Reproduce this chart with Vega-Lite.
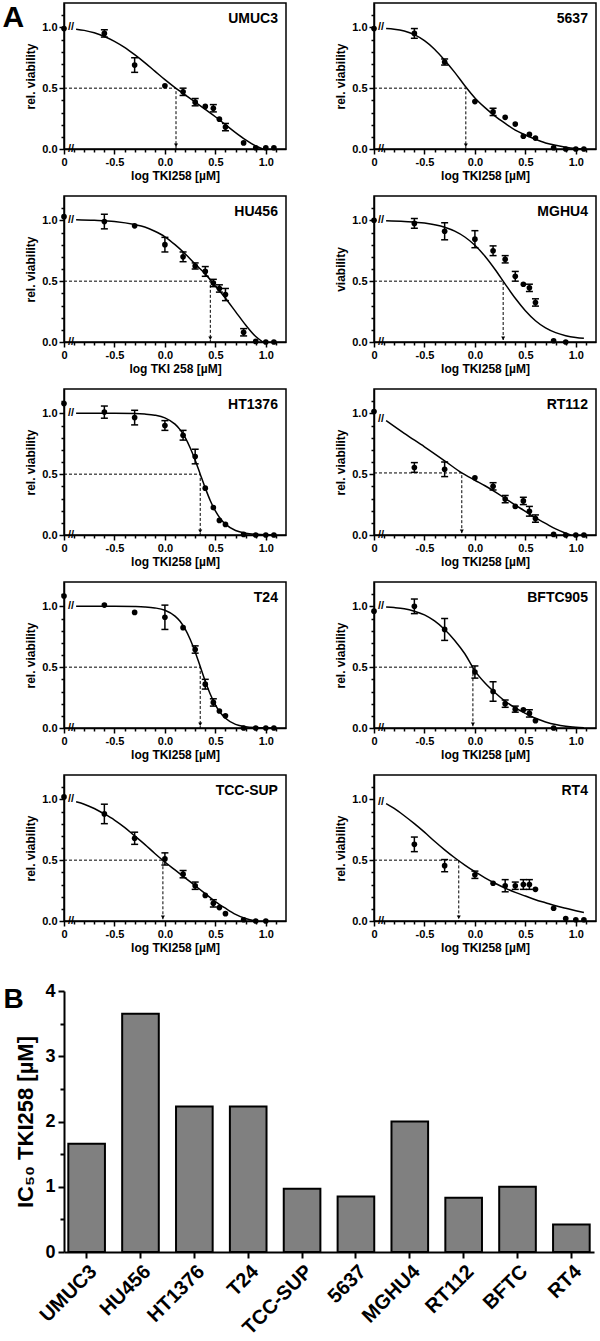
{
"$schema":"https://vega.github.io/schema/vega-lite/v6.json",
"padding":{"left":1,"top":2,"right":0,"bottom":0},
"config":{"font":"Liberation Sans","view":{"stroke":"black","strokeWidth":1.5},
"axis":{"domainColor":"black","domainWidth":1.5,"tickColor":"black","tickWidth":1.5,"tickSize":4,"labelColor":"black","labelFont":"Liberation Sans","labelFontWeight":"bold","labelFontSize":11,"titleFont":"Liberation Sans","titleFontWeight":"bold","titleFontSize":12,"titleColor":"black","grid":false,"labelPadding":2,"titlePadding":4}},
"datasets":{"all":[
{"c":"UMUC3","k":"f","x":-0.88,"y":0.985},{"c":"UMUC3","k":"f","x":-0.8,"y":0.975},{"c":"UMUC3","k":"f","x":-0.7,"y":0.955},{"c":"UMUC3","k":"f","x":-0.6,"y":0.925},{"c":"UMUC3","k":"f","x":-0.5,"y":0.885},{"c":"UMUC3","k":"f","x":-0.4,"y":0.835},{"c":"UMUC3","k":"f","x":-0.3,"y":0.775},{"c":"UMUC3","k":"f","x":-0.2,"y":0.71},{"c":"UMUC3","k":"f","x":-0.1,"y":0.64},{"c":"UMUC3","k":"f","x":0,"y":0.57},{"c":"UMUC3","k":"f","x":0.1,"y":0.505},{"c":"UMUC3","k":"f","x":0.2,"y":0.445},{"c":"UMUC3","k":"f","x":0.3,"y":0.385},{"c":"UMUC3","k":"f","x":0.4,"y":0.325},{"c":"UMUC3","k":"f","x":0.5,"y":0.265},{"c":"UMUC3","k":"f","x":0.6,"y":0.2},{"c":"UMUC3","k":"f","x":0.7,"y":0.135},{"c":"UMUC3","k":"f","x":0.8,"y":0.075},{"c":"UMUC3","k":"f","x":0.9,"y":0.025},{"c":"UMUC3","k":"f","x":0.97,"y":0},
{"c":"UMUC3","k":"p","x":-1,"y":0.99},{"c":"UMUC3","k":"p","x":-0.6,"y":0.95,"lo":0.92,"hi":0.98},{"c":"UMUC3","k":"p","x":-0.3,"y":0.69,"lo":0.63,"hi":0.75},{"c":"UMUC3","k":"p","x":0,"y":0.52},{"c":"UMUC3","k":"p","x":0.18,"y":0.47,"lo":0.44,"hi":0.5},{"c":"UMUC3","k":"p","x":0.3,"y":0.385,"lo":0.355,"hi":0.415},{"c":"UMUC3","k":"p","x":0.4,"y":0.35},{"c":"UMUC3","k":"p","x":0.48,"y":0.335,"lo":0.305,"hi":0.365},{"c":"UMUC3","k":"p","x":0.54,"y":0.245},{"c":"UMUC3","k":"p","x":0.6,"y":0.18,"lo":0.15,"hi":0.21},{"c":"UMUC3","k":"p","x":0.78,"y":0.05},{"c":"UMUC3","k":"p","x":0.9,"y":0.01},{"c":"UMUC3","k":"p","x":1.0,"y":0.01},{"c":"UMUC3","k":"p","x":1.08,"y":0.01},
{"c":"UMUC3","k":"i","ic":0.11},{"c":"UMUC3","k":"g","x":-1,"y":0.5,"o":1},{"c":"UMUC3","k":"g","x":0.11,"y":0.5,"o":2},{"c":"UMUC3","k":"g","x":0.11,"y":0,"o":3},{"c":"UMUC3","k":"b","y":1},{"c":"UMUC3","k":"b","y":0},

{"c":"5637","k":"f","x":-0.88,"y":0.99},{"c":"5637","k":"f","x":-0.8,"y":0.985},{"c":"5637","k":"f","x":-0.7,"y":0.97},{"c":"5637","k":"f","x":-0.6,"y":0.94},{"c":"5637","k":"f","x":-0.5,"y":0.89},{"c":"5637","k":"f","x":-0.4,"y":0.82},{"c":"5637","k":"f","x":-0.3,"y":0.73},{"c":"5637","k":"f","x":-0.2,"y":0.63},{"c":"5637","k":"f","x":-0.1,"y":0.52},{"c":"5637","k":"f","x":0,"y":0.42},{"c":"5637","k":"f","x":0.1,"y":0.34},{"c":"5637","k":"f","x":0.2,"y":0.27},{"c":"5637","k":"f","x":0.3,"y":0.21},{"c":"5637","k":"f","x":0.4,"y":0.155},{"c":"5637","k":"f","x":0.5,"y":0.115},{"c":"5637","k":"f","x":0.6,"y":0.08},{"c":"5637","k":"f","x":0.7,"y":0.05},{"c":"5637","k":"f","x":0.8,"y":0.03},{"c":"5637","k":"f","x":0.9,"y":0.015},{"c":"5637","k":"f","x":1.0,"y":0.005},{"c":"5637","k":"f","x":1.08,"y":0},
{"c":"5637","k":"p","x":-1,"y":0.99},{"c":"5637","k":"p","x":-0.6,"y":0.95,"lo":0.91,"hi":0.99},{"c":"5637","k":"p","x":-0.3,"y":0.715,"lo":0.69,"hi":0.74},{"c":"5637","k":"p","x":0,"y":0.39},{"c":"5637","k":"p","x":0.18,"y":0.305,"lo":0.275,"hi":0.335},{"c":"5637","k":"p","x":0.3,"y":0.26},{"c":"5637","k":"p","x":0.4,"y":0.205},{"c":"5637","k":"p","x":0.48,"y":0.105},{"c":"5637","k":"p","x":0.54,"y":0.12},{"c":"5637","k":"p","x":0.6,"y":0.09},{"c":"5637","k":"p","x":0.78,"y":0.01},{"c":"5637","k":"p","x":0.9,"y":0},{"c":"5637","k":"p","x":1.0,"y":0},{"c":"5637","k":"p","x":1.08,"y":0},
{"c":"5637","k":"i","ic":-0.09},{"c":"5637","k":"g","x":-1,"y":0.5,"o":1},{"c":"5637","k":"g","x":-0.09,"y":0.5,"o":2},{"c":"5637","k":"g","x":-0.09,"y":0,"o":3},{"c":"5637","k":"b","y":1},{"c":"5637","k":"b","y":0},

{"c":"HU456","k":"f","x":-0.88,"y":1.005},{"c":"HU456","k":"f","x":-0.7,"y":1.0},{"c":"HU456","k":"f","x":-0.5,"y":0.99},{"c":"HU456","k":"f","x":-0.3,"y":0.965},{"c":"HU456","k":"f","x":-0.2,"y":0.945},{"c":"HU456","k":"f","x":-0.1,"y":0.91},{"c":"HU456","k":"f","x":0,"y":0.865},{"c":"HU456","k":"f","x":0.1,"y":0.8},{"c":"HU456","k":"f","x":0.2,"y":0.725},{"c":"HU456","k":"f","x":0.3,"y":0.64},{"c":"HU456","k":"f","x":0.4,"y":0.56},{"c":"HU456","k":"f","x":0.5,"y":0.46},{"c":"HU456","k":"f","x":0.6,"y":0.36},{"c":"HU456","k":"f","x":0.7,"y":0.25},{"c":"HU456","k":"f","x":0.8,"y":0.14},{"c":"HU456","k":"f","x":0.9,"y":0.045},{"c":"HU456","k":"f","x":0.97,"y":0},
{"c":"HU456","k":"p","x":-1,"y":1.03},{"c":"HU456","k":"p","x":-0.6,"y":0.99,"lo":0.93,"hi":1.05},{"c":"HU456","k":"p","x":-0.3,"y":0.955},{"c":"HU456","k":"p","x":0,"y":0.8,"lo":0.74,"hi":0.86},{"c":"HU456","k":"p","x":0.18,"y":0.7,"lo":0.66,"hi":0.74},{"c":"HU456","k":"p","x":0.3,"y":0.625,"lo":0.6,"hi":0.65},{"c":"HU456","k":"p","x":0.4,"y":0.58,"lo":0.54,"hi":0.62},{"c":"HU456","k":"p","x":0.48,"y":0.485,"lo":0.455,"hi":0.515},{"c":"HU456","k":"p","x":0.54,"y":0.44,"lo":0.41,"hi":0.47},{"c":"HU456","k":"p","x":0.6,"y":0.39,"lo":0.34,"hi":0.44},{"c":"HU456","k":"p","x":0.78,"y":0.08,"lo":0.05,"hi":0.11},{"c":"HU456","k":"p","x":0.9,"y":0.005},{"c":"HU456","k":"p","x":1.0,"y":0},{"c":"HU456","k":"p","x":1.08,"y":0},
{"c":"HU456","k":"i","ic":0.45},{"c":"HU456","k":"g","x":-1,"y":0.5,"o":1},{"c":"HU456","k":"g","x":0.45,"y":0.5,"o":2},{"c":"HU456","k":"g","x":0.45,"y":0,"o":3},{"c":"HU456","k":"b","y":1},{"c":"HU456","k":"b","y":0},

{"c":"MGHU4","k":"f","x":-0.88,"y":0.997},{"c":"MGHU4","k":"f","x":-0.7,"y":0.991},{"c":"MGHU4","k":"f","x":-0.5,"y":0.978},{"c":"MGHU4","k":"f","x":-0.3,"y":0.943},{"c":"MGHU4","k":"f","x":-0.2,"y":0.911},{"c":"MGHU4","k":"f","x":-0.1,"y":0.863},{"c":"MGHU4","k":"f","x":0,"y":0.795},{"c":"MGHU4","k":"f","x":0.1,"y":0.705},{"c":"MGHU4","k":"f","x":0.2,"y":0.596},{"c":"MGHU4","k":"f","x":0.3,"y":0.476},{"c":"MGHU4","k":"f","x":0.4,"y":0.359},{"c":"MGHU4","k":"f","x":0.5,"y":0.257},{"c":"MGHU4","k":"f","x":0.6,"y":0.175},{"c":"MGHU4","k":"f","x":0.7,"y":0.116},{"c":"MGHU4","k":"f","x":0.8,"y":0.077},{"c":"MGHU4","k":"f","x":0.9,"y":0.052},{"c":"MGHU4","k":"f","x":1.0,"y":0.037},{"c":"MGHU4","k":"f","x":1.08,"y":0.03},
{"c":"MGHU4","k":"p","x":-1,"y":1.0},{"c":"MGHU4","k":"p","x":-0.6,"y":0.975,"lo":0.935,"hi":1.015},{"c":"MGHU4","k":"p","x":-0.3,"y":0.91,"lo":0.84,"hi":0.98},{"c":"MGHU4","k":"p","x":0,"y":0.845,"lo":0.775,"hi":0.915},{"c":"MGHU4","k":"p","x":0.18,"y":0.75,"lo":0.71,"hi":0.79},{"c":"MGHU4","k":"p","x":0.3,"y":0.68,"lo":0.65,"hi":0.71},{"c":"MGHU4","k":"p","x":0.4,"y":0.54,"lo":0.5,"hi":0.58},{"c":"MGHU4","k":"p","x":0.48,"y":0.475},{"c":"MGHU4","k":"p","x":0.54,"y":0.445,"lo":0.415,"hi":0.475},{"c":"MGHU4","k":"p","x":0.6,"y":0.325,"lo":0.295,"hi":0.355},{"c":"MGHU4","k":"p","x":0.78,"y":0.01},{"c":"MGHU4","k":"p","x":0.9,"y":0},
{"c":"MGHU4","k":"i","ic":0.28},{"c":"MGHU4","k":"g","x":-1,"y":0.5,"o":1},{"c":"MGHU4","k":"g","x":0.28,"y":0.5,"o":2},{"c":"MGHU4","k":"g","x":0.28,"y":0,"o":3},{"c":"MGHU4","k":"b","y":1},{"c":"MGHU4","k":"b","y":0},

{"c":"HT1376","k":"f","x":-0.88,"y":1.0},{"c":"HT1376","k":"f","x":-0.5,"y":1.0},{"c":"HT1376","k":"f","x":-0.3,"y":0.998},{"c":"HT1376","k":"f","x":-0.2,"y":0.994},{"c":"HT1376","k":"f","x":-0.1,"y":0.985},{"c":"HT1376","k":"f","x":0,"y":0.963},{"c":"HT1376","k":"f","x":0.1,"y":0.911},{"c":"HT1376","k":"f","x":0.15,"y":0.866},{"c":"HT1376","k":"f","x":0.2,"y":0.802},{"c":"HT1376","k":"f","x":0.25,"y":0.717},{"c":"HT1376","k":"f","x":0.3,"y":0.615},{"c":"HT1376","k":"f","x":0.35,"y":0.5},{"c":"HT1376","k":"f","x":0.4,"y":0.386},{"c":"HT1376","k":"f","x":0.45,"y":0.282},{"c":"HT1376","k":"f","x":0.5,"y":0.198},{"c":"HT1376","k":"f","x":0.55,"y":0.134},{"c":"HT1376","k":"f","x":0.6,"y":0.089},{"c":"HT1376","k":"f","x":0.7,"y":0.037},{"c":"HT1376","k":"f","x":0.8,"y":0.015},{"c":"HT1376","k":"f","x":0.9,"y":0.006},{"c":"HT1376","k":"f","x":1.0,"y":0.002},{"c":"HT1376","k":"f","x":1.08,"y":0.001},
{"c":"HT1376","k":"p","x":-1,"y":1.08},{"c":"HT1376","k":"p","x":-0.6,"y":1.01,"lo":0.96,"hi":1.06},{"c":"HT1376","k":"p","x":-0.3,"y":0.965,"lo":0.905,"hi":1.025},{"c":"HT1376","k":"p","x":0,"y":0.9,"lo":0.86,"hi":0.94},{"c":"HT1376","k":"p","x":0.18,"y":0.82,"lo":0.78,"hi":0.86},{"c":"HT1376","k":"p","x":0.3,"y":0.645,"lo":0.585,"hi":0.705},{"c":"HT1376","k":"p","x":0.4,"y":0.385},{"c":"HT1376","k":"p","x":0.48,"y":0.225},{"c":"HT1376","k":"p","x":0.54,"y":0.12},{"c":"HT1376","k":"p","x":0.6,"y":0.087},{"c":"HT1376","k":"p","x":0.78,"y":0.005},{"c":"HT1376","k":"p","x":0.9,"y":0},{"c":"HT1376","k":"p","x":1.0,"y":0},{"c":"HT1376","k":"p","x":1.08,"y":0},
{"c":"HT1376","k":"i","ic":0.35},{"c":"HT1376","k":"g","x":-1,"y":0.5,"o":1},{"c":"HT1376","k":"g","x":0.35,"y":0.5,"o":2},{"c":"HT1376","k":"g","x":0.35,"y":0,"o":3},{"c":"HT1376","k":"b","y":1},{"c":"HT1376","k":"b","y":0},

{"c":"RT112","k":"f","x":-0.88,"y":0.94},{"c":"RT112","k":"f","x":-0.7,"y":0.835},{"c":"RT112","k":"f","x":-0.5,"y":0.725},{"c":"RT112","k":"f","x":-0.3,"y":0.61},{"c":"RT112","k":"f","x":-0.13,"y":0.51},{"c":"RT112","k":"f","x":0,"y":0.45},{"c":"RT112","k":"f","x":0.1,"y":0.405},{"c":"RT112","k":"f","x":0.2,"y":0.355},{"c":"RT112","k":"f","x":0.3,"y":0.3},{"c":"RT112","k":"f","x":0.4,"y":0.245},{"c":"RT112","k":"f","x":0.5,"y":0.195},{"c":"RT112","k":"f","x":0.6,"y":0.14},{"c":"RT112","k":"f","x":0.7,"y":0.095},{"c":"RT112","k":"f","x":0.8,"y":0.05},{"c":"RT112","k":"f","x":0.9,"y":0.015},{"c":"RT112","k":"f","x":0.95,"y":0},
{"c":"RT112","k":"p","x":-1,"y":1.015},{"c":"RT112","k":"p","x":-0.6,"y":0.555,"lo":0.515,"hi":0.595},{"c":"RT112","k":"p","x":-0.3,"y":0.54,"lo":0.48,"hi":0.6},{"c":"RT112","k":"p","x":0,"y":0.47},{"c":"RT112","k":"p","x":0.18,"y":0.4,"lo":0.37,"hi":0.43},{"c":"RT112","k":"p","x":0.3,"y":0.295,"lo":0.265,"hi":0.325},{"c":"RT112","k":"p","x":0.4,"y":0.235},{"c":"RT112","k":"p","x":0.48,"y":0.28,"lo":0.25,"hi":0.31},{"c":"RT112","k":"p","x":0.54,"y":0.195,"lo":0.155,"hi":0.235},{"c":"RT112","k":"p","x":0.6,"y":0.135,"lo":0.105,"hi":0.165},{"c":"RT112","k":"p","x":0.78,"y":0.005},{"c":"RT112","k":"p","x":0.9,"y":0},{"c":"RT112","k":"p","x":1.0,"y":0},{"c":"RT112","k":"p","x":1.08,"y":0},
{"c":"RT112","k":"i","ic":-0.13},{"c":"RT112","k":"g","x":-1,"y":0.51,"o":1},{"c":"RT112","k":"g","x":-0.13,"y":0.51,"o":2},{"c":"RT112","k":"g","x":-0.13,"y":0,"o":3},{"c":"RT112","k":"b","y":0.95},{"c":"RT112","k":"b","y":0},

{"c":"T24","k":"f","x":-0.88,"y":1.0},{"c":"T24","k":"f","x":-0.5,"y":1.0},{"c":"T24","k":"f","x":-0.3,"y":0.998},{"c":"T24","k":"f","x":-0.2,"y":0.995},{"c":"T24","k":"f","x":-0.1,"y":0.987},{"c":"T24","k":"f","x":0,"y":0.968},{"c":"T24","k":"f","x":0.1,"y":0.92},{"c":"T24","k":"f","x":0.15,"y":0.878},{"c":"T24","k":"f","x":0.2,"y":0.815},{"c":"T24","k":"f","x":0.25,"y":0.73},{"c":"T24","k":"f","x":0.3,"y":0.625},{"c":"T24","k":"f","x":0.35,"y":0.505},{"c":"T24","k":"f","x":0.4,"y":0.385},{"c":"T24","k":"f","x":0.45,"y":0.278},{"c":"T24","k":"f","x":0.5,"y":0.19},{"c":"T24","k":"f","x":0.55,"y":0.125},{"c":"T24","k":"f","x":0.6,"y":0.08},{"c":"T24","k":"f","x":0.7,"y":0.03},{"c":"T24","k":"f","x":0.8,"y":0.011},{"c":"T24","k":"f","x":0.9,"y":0.004},{"c":"T24","k":"f","x":1.0,"y":0.001},{"c":"T24","k":"f","x":1.08,"y":0},
{"c":"T24","k":"p","x":-1,"y":1.085},{"c":"T24","k":"p","x":-0.6,"y":1.01},{"c":"T24","k":"p","x":-0.3,"y":0.95},{"c":"T24","k":"p","x":0,"y":0.91,"lo":0.81,"hi":1.01},{"c":"T24","k":"p","x":0.18,"y":0.825},{"c":"T24","k":"p","x":0.3,"y":0.645,"lo":0.615,"hi":0.675},{"c":"T24","k":"p","x":0.4,"y":0.36,"lo":0.32,"hi":0.4},{"c":"T24","k":"p","x":0.48,"y":0.21,"lo":0.18,"hi":0.24},{"c":"T24","k":"p","x":0.54,"y":0.14},{"c":"T24","k":"p","x":0.6,"y":0.1},{"c":"T24","k":"p","x":0.78,"y":0},{"c":"T24","k":"p","x":0.9,"y":0},{"c":"T24","k":"p","x":1.0,"y":0},{"c":"T24","k":"p","x":1.08,"y":0},
{"c":"T24","k":"i","ic":0.35},{"c":"T24","k":"g","x":-1,"y":0.5,"o":1},{"c":"T24","k":"g","x":0.35,"y":0.5,"o":2},{"c":"T24","k":"g","x":0.35,"y":0,"o":3},{"c":"T24","k":"b","y":1},{"c":"T24","k":"b","y":0},

{"c":"BFTC905","k":"f","x":-0.88,"y":0.995},{"c":"BFTC905","k":"f","x":-0.8,"y":0.99},{"c":"BFTC905","k":"f","x":-0.7,"y":0.98},{"c":"BFTC905","k":"f","x":-0.6,"y":0.96},{"c":"BFTC905","k":"f","x":-0.5,"y":0.93},{"c":"BFTC905","k":"f","x":-0.4,"y":0.88},{"c":"BFTC905","k":"f","x":-0.3,"y":0.81},{"c":"BFTC905","k":"f","x":-0.2,"y":0.72},{"c":"BFTC905","k":"f","x":-0.1,"y":0.61},{"c":"BFTC905","k":"f","x":0,"y":0.47},{"c":"BFTC905","k":"f","x":0.1,"y":0.37},{"c":"BFTC905","k":"f","x":0.2,"y":0.29},{"c":"BFTC905","k":"f","x":0.3,"y":0.22},{"c":"BFTC905","k":"f","x":0.4,"y":0.165},{"c":"BFTC905","k":"f","x":0.5,"y":0.12},{"c":"BFTC905","k":"f","x":0.6,"y":0.08},{"c":"BFTC905","k":"f","x":0.7,"y":0.05},{"c":"BFTC905","k":"f","x":0.8,"y":0.028},{"c":"BFTC905","k":"f","x":0.9,"y":0.014},{"c":"BFTC905","k":"f","x":1.0,"y":0.006},{"c":"BFTC905","k":"f","x":1.08,"y":0.002},
{"c":"BFTC905","k":"p","x":-1,"y":0.96},{"c":"BFTC905","k":"p","x":-0.6,"y":1.0,"lo":0.94,"hi":1.06},{"c":"BFTC905","k":"p","x":-0.3,"y":0.81,"lo":0.72,"hi":0.9},{"c":"BFTC905","k":"p","x":0,"y":0.46,"lo":0.41,"hi":0.51},{"c":"BFTC905","k":"p","x":0.18,"y":0.3,"lo":0.22,"hi":0.38},{"c":"BFTC905","k":"p","x":0.3,"y":0.2,"lo":0.17,"hi":0.23},{"c":"BFTC905","k":"p","x":0.4,"y":0.155,"lo":0.13,"hi":0.18},{"c":"BFTC905","k":"p","x":0.48,"y":0.15},{"c":"BFTC905","k":"p","x":0.54,"y":0.12,"lo":0.09,"hi":0.15},{"c":"BFTC905","k":"p","x":0.6,"y":0.06},{"c":"BFTC905","k":"p","x":0.78,"y":0},
{"c":"BFTC905","k":"i","ic":-0.02},{"c":"BFTC905","k":"g","x":-1,"y":0.5,"o":1},{"c":"BFTC905","k":"g","x":-0.02,"y":0.5,"o":2},{"c":"BFTC905","k":"g","x":-0.02,"y":0,"o":3},{"c":"BFTC905","k":"b","y":1},{"c":"BFTC905","k":"b","y":0},

{"c":"TCC-SUP","k":"f","x":-0.88,"y":0.98},{"c":"TCC-SUP","k":"f","x":-0.8,"y":0.96},{"c":"TCC-SUP","k":"f","x":-0.7,"y":0.925},{"c":"TCC-SUP","k":"f","x":-0.6,"y":0.88},{"c":"TCC-SUP","k":"f","x":-0.5,"y":0.83},{"c":"TCC-SUP","k":"f","x":-0.4,"y":0.77},{"c":"TCC-SUP","k":"f","x":-0.3,"y":0.7},{"c":"TCC-SUP","k":"f","x":-0.2,"y":0.63},{"c":"TCC-SUP","k":"f","x":-0.1,"y":0.555},{"c":"TCC-SUP","k":"f","x":0,"y":0.485},{"c":"TCC-SUP","k":"f","x":0.1,"y":0.42},{"c":"TCC-SUP","k":"f","x":0.2,"y":0.355},{"c":"TCC-SUP","k":"f","x":0.3,"y":0.29},{"c":"TCC-SUP","k":"f","x":0.4,"y":0.225},{"c":"TCC-SUP","k":"f","x":0.5,"y":0.16},{"c":"TCC-SUP","k":"f","x":0.6,"y":0.105},{"c":"TCC-SUP","k":"f","x":0.7,"y":0.055},{"c":"TCC-SUP","k":"f","x":0.8,"y":0.02},{"c":"TCC-SUP","k":"f","x":0.9,"y":0},
{"c":"TCC-SUP","k":"p","x":-1,"y":1.02},{"c":"TCC-SUP","k":"p","x":-0.6,"y":0.88,"lo":0.8,"hi":0.96},{"c":"TCC-SUP","k":"p","x":-0.3,"y":0.68,"lo":0.63,"hi":0.73},{"c":"TCC-SUP","k":"p","x":0,"y":0.51,"lo":0.46,"hi":0.56},{"c":"TCC-SUP","k":"p","x":0.18,"y":0.385,"lo":0.355,"hi":0.415},{"c":"TCC-SUP","k":"p","x":0.3,"y":0.29,"lo":0.26,"hi":0.32},{"c":"TCC-SUP","k":"p","x":0.4,"y":0.21},{"c":"TCC-SUP","k":"p","x":0.48,"y":0.145,"lo":0.115,"hi":0.175},{"c":"TCC-SUP","k":"p","x":0.54,"y":0.11},{"c":"TCC-SUP","k":"p","x":0.6,"y":0.06},{"c":"TCC-SUP","k":"p","x":0.78,"y":0.01},{"c":"TCC-SUP","k":"p","x":0.9,"y":0},{"c":"TCC-SUP","k":"p","x":1.0,"y":0},
{"c":"TCC-SUP","k":"i","ic":-0.02},{"c":"TCC-SUP","k":"g","x":-1,"y":0.5,"o":1},{"c":"TCC-SUP","k":"g","x":-0.02,"y":0.5,"o":2},{"c":"TCC-SUP","k":"g","x":-0.02,"y":0,"o":3},{"c":"TCC-SUP","k":"b","y":1},{"c":"TCC-SUP","k":"b","y":0},

{"c":"RT4","k":"f","x":-0.88,"y":0.965},{"c":"RT4","k":"f","x":-0.8,"y":0.925},{"c":"RT4","k":"f","x":-0.7,"y":0.865},{"c":"RT4","k":"f","x":-0.6,"y":0.8},{"c":"RT4","k":"f","x":-0.5,"y":0.73},{"c":"RT4","k":"f","x":-0.4,"y":0.655},{"c":"RT4","k":"f","x":-0.3,"y":0.585},{"c":"RT4","k":"f","x":-0.2,"y":0.52},{"c":"RT4","k":"f","x":-0.1,"y":0.46},{"c":"RT4","k":"f","x":0,"y":0.405},{"c":"RT4","k":"f","x":0.1,"y":0.355},{"c":"RT4","k":"f","x":0.2,"y":0.31},{"c":"RT4","k":"f","x":0.3,"y":0.27},{"c":"RT4","k":"f","x":0.4,"y":0.235},{"c":"RT4","k":"f","x":0.5,"y":0.205},{"c":"RT4","k":"f","x":0.6,"y":0.175},{"c":"RT4","k":"f","x":0.7,"y":0.15},{"c":"RT4","k":"f","x":0.8,"y":0.125},{"c":"RT4","k":"f","x":0.9,"y":0.105},{"c":"RT4","k":"f","x":1.0,"y":0.085},{"c":"RT4","k":"f","x":1.08,"y":0.07},
{"c":"RT4","k":"p","x":-0.6,"y":0.63,"lo":0.57,"hi":0.69},{"c":"RT4","k":"p","x":-0.3,"y":0.455,"lo":0.405,"hi":0.505},{"c":"RT4","k":"p","x":0,"y":0.38,"lo":0.35,"hi":0.41},{"c":"RT4","k":"p","x":0.18,"y":0.31},{"c":"RT4","k":"p","x":0.3,"y":0.29,"lo":0.24,"hi":0.34},{"c":"RT4","k":"p","x":0.4,"y":0.29,"lo":0.26,"hi":0.32},{"c":"RT4","k":"p","x":0.48,"y":0.3,"lo":0.26,"hi":0.34},{"c":"RT4","k":"p","x":0.54,"y":0.3,"lo":0.26,"hi":0.34},{"c":"RT4","k":"p","x":0.6,"y":0.26},{"c":"RT4","k":"p","x":0.78,"y":0.105},{"c":"RT4","k":"p","x":0.9,"y":0.02},{"c":"RT4","k":"p","x":1.0,"y":0.01},{"c":"RT4","k":"p","x":1.08,"y":0.01},
{"c":"RT4","k":"i","ic":-0.16},{"c":"RT4","k":"g","x":-1,"y":0.5,"o":1},{"c":"RT4","k":"g","x":-0.16,"y":0.5,"o":2},{"c":"RT4","k":"g","x":-0.16,"y":0,"o":3},{"c":"RT4","k":"b","y":0.98},{"c":"RT4","k":"b","y":0}
]},
"data":{"name":"all"},
"spacing":28,
"vconcat":[
{"columns":2,"align":"each","spacing":{"row":13,"column":46},
"concat":[
{"width":222,"height":146,"transform":[{"filter":"datum.c=='UMUC3'"}],"resolve":{"axis":{"x":"independent","y":"independent"}},
"layer":[
{"transform":[{"filter":"datum.k=='f'"}],"mark":{"type":"line","interpolate":"monotone","color":"black","strokeWidth":1.5},"encoding":{"x":{"field":"x","type":"quantitative","title":"log TKI258 [µM]","scale":{"domain":[-1,1.2],"nice":false,"zero":false},"axis":{"values":[-1,-0.5,0,0.5,1],"labelExpr":"datum.value < -0.95 ? '0' : (datum.value < 0 ? '-' : '') + format(abs(datum.value), '.1f')","labelFlush":false,"tickSize":5,"titlePadding":3}},"y":{"field":"y","type":"quantitative","title":"rel. viability","scale":{"domain":[0,1.2],"nice":false},"axis":{"values":[0,0.5,1],"format":".1f","tickSize":5,"labelFlush":false}}}},
{"transform":[{"filter":"datum.k=='g'"}],"mark":{"type":"line","strokeDash":[3,2],"strokeWidth":1,"color":"black"},"encoding":{"x":{"field":"x","type":"quantitative","axis":null},"y":{"field":"y","type":"quantitative","axis":null},"order":{"field":"o","type":"quantitative"}}},
{"transform":[{"filter":"datum.k=='i'"}],"mark":{"type":"point","shape":"triangle-down","filled":true,"size":16,"color":"black","opacity":1},"encoding":{"x":{"field":"ic","type":"quantitative","axis":null},"y":{"datum":0.03,"type":"quantitative","axis":null}}},
{"transform":[{"filter":"datum.k=='p' && isValid(datum.lo)"}],"mark":{"type":"rule","strokeWidth":1.5,"color":"black"},"encoding":{"x":{"field":"x","type":"quantitative","axis":null},"y":{"field":"lo","type":"quantitative","axis":null},"y2":{"field":"hi"}}},
{"transform":[{"filter":"datum.k=='p' && isValid(datum.lo)"}],"mark":{"type":"tick","orient":"horizontal","size":7,"thickness":1.5,"color":"black","opacity":1},"encoding":{"x":{"field":"x","type":"quantitative","axis":null},"y":{"field":"lo","type":"quantitative","axis":null}}},
{"transform":[{"filter":"datum.k=='p' && isValid(datum.lo)"}],"mark":{"type":"tick","orient":"horizontal","size":7,"thickness":1.5,"color":"black","opacity":1},"encoding":{"x":{"field":"x","type":"quantitative","axis":null},"y":{"field":"hi","type":"quantitative","axis":null}}},
{"transform":[{"filter":"datum.k=='p'"}],"mark":{"type":"circle","size":32,"color":"black","opacity":1},"encoding":{"x":{"field":"x","type":"quantitative","title":null,"axis":{"values":[-0.9,-0.8,-0.7,-0.6,-0.4,-0.3,-0.2,-0.1,0.1,0.2,0.3,0.4,0.6,0.7,0.8,0.9,1.1],"labels":false,"domain":false,"tickSize":3,"orient":"bottom"}},"y":{"field":"y","type":"quantitative","title":null,"axis":{"values":[0.1,0.2,0.3,0.4,0.6,0.7,0.8,0.9,1.1],"labels":false,"domain":false,"tickSize":3,"orient":"left"}}}},
{"transform":[{"filter":"datum.k=='b'"}],"mark":{"type":"text","text":"//","fontSize":11,"fontWeight":"bold","color":"black"},"encoding":{"x":{"datum":-0.93,"type":"quantitative","axis":null},"y":{"field":"y","type":"quantitative","axis":null}}},
{"transform":[{"filter":"datum.k=='i'"}],"mark":{"type":"text","align":"right","baseline":"middle","fontSize":14,"fontWeight":"bold","color":"black"},"encoding":{"x":{"datum":1.12,"type":"quantitative","axis":null},"y":{"datum":1.07,"type":"quantitative","axis":null},"text":{"field":"c","type":"nominal"}}},
{"transform":[{"filter":"datum.k=='i'"}],"mark":{"type":"text","text":"A","align":"left","baseline":"top","fontSize":30,"fontWeight":"bold","color":"black"},"encoding":{"x":{"datum":-1.61,"type":"quantitative","axis":null},"y":{"datum":1.2,"type":"quantitative","axis":null}}}
]},
{"width":222,"height":146,"transform":[{"filter":"datum.c=='5637'"}],"resolve":{"axis":{"x":"independent","y":"independent"}},
"layer":[
{"transform":[{"filter":"datum.k=='f'"}],"mark":{"type":"line","interpolate":"monotone","color":"black","strokeWidth":1.5},"encoding":{"x":{"field":"x","type":"quantitative","title":"log TKI258 [µM]","scale":{"domain":[-1,1.2],"nice":false,"zero":false},"axis":{"values":[-1,-0.5,0,0.5,1],"labelExpr":"datum.value < -0.95 ? '0' : (datum.value < 0 ? '-' : '') + format(abs(datum.value), '.1f')","labelFlush":false,"tickSize":5,"titlePadding":3}},"y":{"field":"y","type":"quantitative","title":"rel. viability","scale":{"domain":[0,1.2],"nice":false},"axis":{"values":[0,0.5,1],"format":".1f","tickSize":5,"labelFlush":false}}}},
{"transform":[{"filter":"datum.k=='g'"}],"mark":{"type":"line","strokeDash":[3,2],"strokeWidth":1,"color":"black"},"encoding":{"x":{"field":"x","type":"quantitative","axis":null},"y":{"field":"y","type":"quantitative","axis":null},"order":{"field":"o","type":"quantitative"}}},
{"transform":[{"filter":"datum.k=='i'"}],"mark":{"type":"point","shape":"triangle-down","filled":true,"size":16,"color":"black","opacity":1},"encoding":{"x":{"field":"ic","type":"quantitative","axis":null},"y":{"datum":0.03,"type":"quantitative","axis":null}}},
{"transform":[{"filter":"datum.k=='p' && isValid(datum.lo)"}],"mark":{"type":"rule","strokeWidth":1.5,"color":"black"},"encoding":{"x":{"field":"x","type":"quantitative","axis":null},"y":{"field":"lo","type":"quantitative","axis":null},"y2":{"field":"hi"}}},
{"transform":[{"filter":"datum.k=='p' && isValid(datum.lo)"}],"mark":{"type":"tick","orient":"horizontal","size":7,"thickness":1.5,"color":"black","opacity":1},"encoding":{"x":{"field":"x","type":"quantitative","axis":null},"y":{"field":"lo","type":"quantitative","axis":null}}},
{"transform":[{"filter":"datum.k=='p' && isValid(datum.lo)"}],"mark":{"type":"tick","orient":"horizontal","size":7,"thickness":1.5,"color":"black","opacity":1},"encoding":{"x":{"field":"x","type":"quantitative","axis":null},"y":{"field":"hi","type":"quantitative","axis":null}}},
{"transform":[{"filter":"datum.k=='p'"}],"mark":{"type":"circle","size":32,"color":"black","opacity":1},"encoding":{"x":{"field":"x","type":"quantitative","title":null,"axis":{"values":[-0.9,-0.8,-0.7,-0.6,-0.4,-0.3,-0.2,-0.1,0.1,0.2,0.3,0.4,0.6,0.7,0.8,0.9,1.1],"labels":false,"domain":false,"tickSize":3,"orient":"bottom"}},"y":{"field":"y","type":"quantitative","title":null,"axis":{"values":[0.1,0.2,0.3,0.4,0.6,0.7,0.8,0.9,1.1],"labels":false,"domain":false,"tickSize":3,"orient":"left"}}}},
{"transform":[{"filter":"datum.k=='b'"}],"mark":{"type":"text","text":"//","fontSize":11,"fontWeight":"bold","color":"black"},"encoding":{"x":{"datum":-0.93,"type":"quantitative","axis":null},"y":{"field":"y","type":"quantitative","axis":null}}},
{"transform":[{"filter":"datum.k=='i'"}],"mark":{"type":"text","align":"right","baseline":"middle","fontSize":14,"fontWeight":"bold","color":"black"},"encoding":{"x":{"datum":1.12,"type":"quantitative","axis":null},"y":{"datum":1.07,"type":"quantitative","axis":null},"text":{"field":"c","type":"nominal"}}}
]},
{"width":222,"height":146,"transform":[{"filter":"datum.c=='HU456'"}],"resolve":{"axis":{"x":"independent","y":"independent"}},
"layer":[
{"transform":[{"filter":"datum.k=='f'"}],"mark":{"type":"line","interpolate":"monotone","color":"black","strokeWidth":1.5},"encoding":{"x":{"field":"x","type":"quantitative","title":"log TKI 258 [µM]","scale":{"domain":[-1,1.2],"nice":false,"zero":false},"axis":{"values":[-1,-0.5,0,0.5,1],"labelExpr":"datum.value < -0.95 ? '0' : (datum.value < 0 ? '-' : '') + format(abs(datum.value), '.1f')","labelFlush":false,"tickSize":5,"titlePadding":3}},"y":{"field":"y","type":"quantitative","title":"rel. viability","scale":{"domain":[0,1.2],"nice":false},"axis":{"values":[0,0.5,1],"format":".1f","tickSize":5,"labelFlush":false}}}},
{"transform":[{"filter":"datum.k=='g'"}],"mark":{"type":"line","strokeDash":[3,2],"strokeWidth":1,"color":"black"},"encoding":{"x":{"field":"x","type":"quantitative","axis":null},"y":{"field":"y","type":"quantitative","axis":null},"order":{"field":"o","type":"quantitative"}}},
{"transform":[{"filter":"datum.k=='i'"}],"mark":{"type":"point","shape":"triangle-down","filled":true,"size":16,"color":"black","opacity":1},"encoding":{"x":{"field":"ic","type":"quantitative","axis":null},"y":{"datum":0.03,"type":"quantitative","axis":null}}},
{"transform":[{"filter":"datum.k=='p' && isValid(datum.lo)"}],"mark":{"type":"rule","strokeWidth":1.5,"color":"black"},"encoding":{"x":{"field":"x","type":"quantitative","axis":null},"y":{"field":"lo","type":"quantitative","axis":null},"y2":{"field":"hi"}}},
{"transform":[{"filter":"datum.k=='p' && isValid(datum.lo)"}],"mark":{"type":"tick","orient":"horizontal","size":7,"thickness":1.5,"color":"black","opacity":1},"encoding":{"x":{"field":"x","type":"quantitative","axis":null},"y":{"field":"lo","type":"quantitative","axis":null}}},
{"transform":[{"filter":"datum.k=='p' && isValid(datum.lo)"}],"mark":{"type":"tick","orient":"horizontal","size":7,"thickness":1.5,"color":"black","opacity":1},"encoding":{"x":{"field":"x","type":"quantitative","axis":null},"y":{"field":"hi","type":"quantitative","axis":null}}},
{"transform":[{"filter":"datum.k=='p'"}],"mark":{"type":"circle","size":32,"color":"black","opacity":1},"encoding":{"x":{"field":"x","type":"quantitative","title":null,"axis":{"values":[-0.9,-0.8,-0.7,-0.6,-0.4,-0.3,-0.2,-0.1,0.1,0.2,0.3,0.4,0.6,0.7,0.8,0.9,1.1],"labels":false,"domain":false,"tickSize":3,"orient":"bottom"}},"y":{"field":"y","type":"quantitative","title":null,"axis":{"values":[0.1,0.2,0.3,0.4,0.6,0.7,0.8,0.9,1.1],"labels":false,"domain":false,"tickSize":3,"orient":"left"}}}},
{"transform":[{"filter":"datum.k=='b'"}],"mark":{"type":"text","text":"//","fontSize":11,"fontWeight":"bold","color":"black"},"encoding":{"x":{"datum":-0.93,"type":"quantitative","axis":null},"y":{"field":"y","type":"quantitative","axis":null}}},
{"transform":[{"filter":"datum.k=='i'"}],"mark":{"type":"text","align":"right","baseline":"middle","fontSize":14,"fontWeight":"bold","color":"black"},"encoding":{"x":{"datum":1.12,"type":"quantitative","axis":null},"y":{"datum":1.07,"type":"quantitative","axis":null},"text":{"field":"c","type":"nominal"}}}
]},
{"width":222,"height":146,"transform":[{"filter":"datum.c=='MGHU4'"}],"resolve":{"axis":{"x":"independent","y":"independent"}},
"layer":[
{"transform":[{"filter":"datum.k=='f'"}],"mark":{"type":"line","interpolate":"monotone","color":"black","strokeWidth":1.5},"encoding":{"x":{"field":"x","type":"quantitative","title":"log TKI258 [µM]","scale":{"domain":[-1,1.2],"nice":false,"zero":false},"axis":{"values":[-1,-0.5,0,0.5,1],"labelExpr":"datum.value < -0.95 ? '0' : (datum.value < 0 ? '-' : '') + format(abs(datum.value), '.1f')","labelFlush":false,"tickSize":5,"titlePadding":3}},"y":{"field":"y","type":"quantitative","title":"viability","scale":{"domain":[0,1.2],"nice":false},"axis":{"values":[0,0.5,1],"format":".1f","tickSize":5,"labelFlush":false}}}},
{"transform":[{"filter":"datum.k=='g'"}],"mark":{"type":"line","strokeDash":[3,2],"strokeWidth":1,"color":"black"},"encoding":{"x":{"field":"x","type":"quantitative","axis":null},"y":{"field":"y","type":"quantitative","axis":null},"order":{"field":"o","type":"quantitative"}}},
{"transform":[{"filter":"datum.k=='i'"}],"mark":{"type":"point","shape":"triangle-down","filled":true,"size":16,"color":"black","opacity":1},"encoding":{"x":{"field":"ic","type":"quantitative","axis":null},"y":{"datum":0.03,"type":"quantitative","axis":null}}},
{"transform":[{"filter":"datum.k=='p' && isValid(datum.lo)"}],"mark":{"type":"rule","strokeWidth":1.5,"color":"black"},"encoding":{"x":{"field":"x","type":"quantitative","axis":null},"y":{"field":"lo","type":"quantitative","axis":null},"y2":{"field":"hi"}}},
{"transform":[{"filter":"datum.k=='p' && isValid(datum.lo)"}],"mark":{"type":"tick","orient":"horizontal","size":7,"thickness":1.5,"color":"black","opacity":1},"encoding":{"x":{"field":"x","type":"quantitative","axis":null},"y":{"field":"lo","type":"quantitative","axis":null}}},
{"transform":[{"filter":"datum.k=='p' && isValid(datum.lo)"}],"mark":{"type":"tick","orient":"horizontal","size":7,"thickness":1.5,"color":"black","opacity":1},"encoding":{"x":{"field":"x","type":"quantitative","axis":null},"y":{"field":"hi","type":"quantitative","axis":null}}},
{"transform":[{"filter":"datum.k=='p'"}],"mark":{"type":"circle","size":32,"color":"black","opacity":1},"encoding":{"x":{"field":"x","type":"quantitative","title":null,"axis":{"values":[-0.9,-0.8,-0.7,-0.6,-0.4,-0.3,-0.2,-0.1,0.1,0.2,0.3,0.4,0.6,0.7,0.8,0.9,1.1],"labels":false,"domain":false,"tickSize":3,"orient":"bottom"}},"y":{"field":"y","type":"quantitative","title":null,"axis":{"values":[0.1,0.2,0.3,0.4,0.6,0.7,0.8,0.9,1.1],"labels":false,"domain":false,"tickSize":3,"orient":"left"}}}},
{"transform":[{"filter":"datum.k=='b'"}],"mark":{"type":"text","text":"//","fontSize":11,"fontWeight":"bold","color":"black"},"encoding":{"x":{"datum":-0.93,"type":"quantitative","axis":null},"y":{"field":"y","type":"quantitative","axis":null}}},
{"transform":[{"filter":"datum.k=='i'"}],"mark":{"type":"text","align":"right","baseline":"middle","fontSize":14,"fontWeight":"bold","color":"black"},"encoding":{"x":{"datum":1.12,"type":"quantitative","axis":null},"y":{"datum":1.07,"type":"quantitative","axis":null},"text":{"field":"c","type":"nominal"}}}
]},
{"width":222,"height":146,"transform":[{"filter":"datum.c=='HT1376'"}],"resolve":{"axis":{"x":"independent","y":"independent"}},
"layer":[
{"transform":[{"filter":"datum.k=='f'"}],"mark":{"type":"line","interpolate":"monotone","color":"black","strokeWidth":1.5},"encoding":{"x":{"field":"x","type":"quantitative","title":"log TKI258 [µM]","scale":{"domain":[-1,1.2],"nice":false,"zero":false},"axis":{"values":[-1,-0.5,0,0.5,1],"labelExpr":"datum.value < -0.95 ? '0' : (datum.value < 0 ? '-' : '') + format(abs(datum.value), '.1f')","labelFlush":false,"tickSize":5,"titlePadding":3}},"y":{"field":"y","type":"quantitative","title":"rel. viability","scale":{"domain":[0,1.2],"nice":false},"axis":{"values":[0,0.5,1],"format":".1f","tickSize":5,"labelFlush":false}}}},
{"transform":[{"filter":"datum.k=='g'"}],"mark":{"type":"line","strokeDash":[3,2],"strokeWidth":1,"color":"black"},"encoding":{"x":{"field":"x","type":"quantitative","axis":null},"y":{"field":"y","type":"quantitative","axis":null},"order":{"field":"o","type":"quantitative"}}},
{"transform":[{"filter":"datum.k=='i'"}],"mark":{"type":"point","shape":"triangle-down","filled":true,"size":16,"color":"black","opacity":1},"encoding":{"x":{"field":"ic","type":"quantitative","axis":null},"y":{"datum":0.03,"type":"quantitative","axis":null}}},
{"transform":[{"filter":"datum.k=='p' && isValid(datum.lo)"}],"mark":{"type":"rule","strokeWidth":1.5,"color":"black"},"encoding":{"x":{"field":"x","type":"quantitative","axis":null},"y":{"field":"lo","type":"quantitative","axis":null},"y2":{"field":"hi"}}},
{"transform":[{"filter":"datum.k=='p' && isValid(datum.lo)"}],"mark":{"type":"tick","orient":"horizontal","size":7,"thickness":1.5,"color":"black","opacity":1},"encoding":{"x":{"field":"x","type":"quantitative","axis":null},"y":{"field":"lo","type":"quantitative","axis":null}}},
{"transform":[{"filter":"datum.k=='p' && isValid(datum.lo)"}],"mark":{"type":"tick","orient":"horizontal","size":7,"thickness":1.5,"color":"black","opacity":1},"encoding":{"x":{"field":"x","type":"quantitative","axis":null},"y":{"field":"hi","type":"quantitative","axis":null}}},
{"transform":[{"filter":"datum.k=='p'"}],"mark":{"type":"circle","size":32,"color":"black","opacity":1},"encoding":{"x":{"field":"x","type":"quantitative","title":null,"axis":{"values":[-0.9,-0.8,-0.7,-0.6,-0.4,-0.3,-0.2,-0.1,0.1,0.2,0.3,0.4,0.6,0.7,0.8,0.9,1.1],"labels":false,"domain":false,"tickSize":3,"orient":"bottom"}},"y":{"field":"y","type":"quantitative","title":null,"axis":{"values":[0.1,0.2,0.3,0.4,0.6,0.7,0.8,0.9,1.1],"labels":false,"domain":false,"tickSize":3,"orient":"left"}}}},
{"transform":[{"filter":"datum.k=='b'"}],"mark":{"type":"text","text":"//","fontSize":11,"fontWeight":"bold","color":"black"},"encoding":{"x":{"datum":-0.93,"type":"quantitative","axis":null},"y":{"field":"y","type":"quantitative","axis":null}}},
{"transform":[{"filter":"datum.k=='i'"}],"mark":{"type":"text","align":"right","baseline":"middle","fontSize":14,"fontWeight":"bold","color":"black"},"encoding":{"x":{"datum":1.12,"type":"quantitative","axis":null},"y":{"datum":1.07,"type":"quantitative","axis":null},"text":{"field":"c","type":"nominal"}}}
]},
{"width":222,"height":146,"transform":[{"filter":"datum.c=='RT112'"}],"resolve":{"axis":{"x":"independent","y":"independent"}},
"layer":[
{"transform":[{"filter":"datum.k=='f'"}],"mark":{"type":"line","interpolate":"monotone","color":"black","strokeWidth":1.5},"encoding":{"x":{"field":"x","type":"quantitative","title":"log TKI258 [µM]","scale":{"domain":[-1,1.2],"nice":false,"zero":false},"axis":{"values":[-1,-0.5,0,0.5,1],"labelExpr":"datum.value < -0.95 ? '0' : (datum.value < 0 ? '-' : '') + format(abs(datum.value), '.1f')","labelFlush":false,"tickSize":5,"titlePadding":3}},"y":{"field":"y","type":"quantitative","title":"rel. viability","scale":{"domain":[0,1.2],"nice":false},"axis":{"values":[0,0.5,1],"format":".1f","tickSize":5,"labelFlush":false}}}},
{"transform":[{"filter":"datum.k=='g'"}],"mark":{"type":"line","strokeDash":[3,2],"strokeWidth":1,"color":"black"},"encoding":{"x":{"field":"x","type":"quantitative","axis":null},"y":{"field":"y","type":"quantitative","axis":null},"order":{"field":"o","type":"quantitative"}}},
{"transform":[{"filter":"datum.k=='i'"}],"mark":{"type":"point","shape":"triangle-down","filled":true,"size":16,"color":"black","opacity":1},"encoding":{"x":{"field":"ic","type":"quantitative","axis":null},"y":{"datum":0.03,"type":"quantitative","axis":null}}},
{"transform":[{"filter":"datum.k=='p' && isValid(datum.lo)"}],"mark":{"type":"rule","strokeWidth":1.5,"color":"black"},"encoding":{"x":{"field":"x","type":"quantitative","axis":null},"y":{"field":"lo","type":"quantitative","axis":null},"y2":{"field":"hi"}}},
{"transform":[{"filter":"datum.k=='p' && isValid(datum.lo)"}],"mark":{"type":"tick","orient":"horizontal","size":7,"thickness":1.5,"color":"black","opacity":1},"encoding":{"x":{"field":"x","type":"quantitative","axis":null},"y":{"field":"lo","type":"quantitative","axis":null}}},
{"transform":[{"filter":"datum.k=='p' && isValid(datum.lo)"}],"mark":{"type":"tick","orient":"horizontal","size":7,"thickness":1.5,"color":"black","opacity":1},"encoding":{"x":{"field":"x","type":"quantitative","axis":null},"y":{"field":"hi","type":"quantitative","axis":null}}},
{"transform":[{"filter":"datum.k=='p'"}],"mark":{"type":"circle","size":32,"color":"black","opacity":1},"encoding":{"x":{"field":"x","type":"quantitative","title":null,"axis":{"values":[-0.9,-0.8,-0.7,-0.6,-0.4,-0.3,-0.2,-0.1,0.1,0.2,0.3,0.4,0.6,0.7,0.8,0.9,1.1],"labels":false,"domain":false,"tickSize":3,"orient":"bottom"}},"y":{"field":"y","type":"quantitative","title":null,"axis":{"values":[0.1,0.2,0.3,0.4,0.6,0.7,0.8,0.9,1.1],"labels":false,"domain":false,"tickSize":3,"orient":"left"}}}},
{"transform":[{"filter":"datum.k=='b'"}],"mark":{"type":"text","text":"//","fontSize":11,"fontWeight":"bold","color":"black"},"encoding":{"x":{"datum":-0.93,"type":"quantitative","axis":null},"y":{"field":"y","type":"quantitative","axis":null}}},
{"transform":[{"filter":"datum.k=='i'"}],"mark":{"type":"text","align":"right","baseline":"middle","fontSize":14,"fontWeight":"bold","color":"black"},"encoding":{"x":{"datum":1.12,"type":"quantitative","axis":null},"y":{"datum":1.07,"type":"quantitative","axis":null},"text":{"field":"c","type":"nominal"}}}
]},
{"width":222,"height":146,"transform":[{"filter":"datum.c=='T24'"}],"resolve":{"axis":{"x":"independent","y":"independent"}},
"layer":[
{"transform":[{"filter":"datum.k=='f'"}],"mark":{"type":"line","interpolate":"monotone","color":"black","strokeWidth":1.5},"encoding":{"x":{"field":"x","type":"quantitative","title":"log TKI258 [µM]","scale":{"domain":[-1,1.2],"nice":false,"zero":false},"axis":{"values":[-1,-0.5,0,0.5,1],"labelExpr":"datum.value < -0.95 ? '0' : (datum.value < 0 ? '-' : '') + format(abs(datum.value), '.1f')","labelFlush":false,"tickSize":5,"titlePadding":3}},"y":{"field":"y","type":"quantitative","title":"rel. viability","scale":{"domain":[0,1.2],"nice":false},"axis":{"values":[0,0.5,1],"format":".1f","tickSize":5,"labelFlush":false}}}},
{"transform":[{"filter":"datum.k=='g'"}],"mark":{"type":"line","strokeDash":[3,2],"strokeWidth":1,"color":"black"},"encoding":{"x":{"field":"x","type":"quantitative","axis":null},"y":{"field":"y","type":"quantitative","axis":null},"order":{"field":"o","type":"quantitative"}}},
{"transform":[{"filter":"datum.k=='i'"}],"mark":{"type":"point","shape":"triangle-down","filled":true,"size":16,"color":"black","opacity":1},"encoding":{"x":{"field":"ic","type":"quantitative","axis":null},"y":{"datum":0.03,"type":"quantitative","axis":null}}},
{"transform":[{"filter":"datum.k=='p' && isValid(datum.lo)"}],"mark":{"type":"rule","strokeWidth":1.5,"color":"black"},"encoding":{"x":{"field":"x","type":"quantitative","axis":null},"y":{"field":"lo","type":"quantitative","axis":null},"y2":{"field":"hi"}}},
{"transform":[{"filter":"datum.k=='p' && isValid(datum.lo)"}],"mark":{"type":"tick","orient":"horizontal","size":7,"thickness":1.5,"color":"black","opacity":1},"encoding":{"x":{"field":"x","type":"quantitative","axis":null},"y":{"field":"lo","type":"quantitative","axis":null}}},
{"transform":[{"filter":"datum.k=='p' && isValid(datum.lo)"}],"mark":{"type":"tick","orient":"horizontal","size":7,"thickness":1.5,"color":"black","opacity":1},"encoding":{"x":{"field":"x","type":"quantitative","axis":null},"y":{"field":"hi","type":"quantitative","axis":null}}},
{"transform":[{"filter":"datum.k=='p'"}],"mark":{"type":"circle","size":32,"color":"black","opacity":1},"encoding":{"x":{"field":"x","type":"quantitative","title":null,"axis":{"values":[-0.9,-0.8,-0.7,-0.6,-0.4,-0.3,-0.2,-0.1,0.1,0.2,0.3,0.4,0.6,0.7,0.8,0.9,1.1],"labels":false,"domain":false,"tickSize":3,"orient":"bottom"}},"y":{"field":"y","type":"quantitative","title":null,"axis":{"values":[0.1,0.2,0.3,0.4,0.6,0.7,0.8,0.9,1.1],"labels":false,"domain":false,"tickSize":3,"orient":"left"}}}},
{"transform":[{"filter":"datum.k=='b'"}],"mark":{"type":"text","text":"//","fontSize":11,"fontWeight":"bold","color":"black"},"encoding":{"x":{"datum":-0.93,"type":"quantitative","axis":null},"y":{"field":"y","type":"quantitative","axis":null}}},
{"transform":[{"filter":"datum.k=='i'"}],"mark":{"type":"text","align":"right","baseline":"middle","fontSize":14,"fontWeight":"bold","color":"black"},"encoding":{"x":{"datum":1.12,"type":"quantitative","axis":null},"y":{"datum":1.07,"type":"quantitative","axis":null},"text":{"field":"c","type":"nominal"}}}
]},
{"width":222,"height":146,"transform":[{"filter":"datum.c=='BFTC905'"}],"resolve":{"axis":{"x":"independent","y":"independent"}},
"layer":[
{"transform":[{"filter":"datum.k=='f'"}],"mark":{"type":"line","interpolate":"monotone","color":"black","strokeWidth":1.5},"encoding":{"x":{"field":"x","type":"quantitative","title":"log TKI258 [µM]","scale":{"domain":[-1,1.2],"nice":false,"zero":false},"axis":{"values":[-1,-0.5,0,0.5,1],"labelExpr":"datum.value < -0.95 ? '0' : (datum.value < 0 ? '-' : '') + format(abs(datum.value), '.1f')","labelFlush":false,"tickSize":5,"titlePadding":3}},"y":{"field":"y","type":"quantitative","title":"rel. viability","scale":{"domain":[0,1.2],"nice":false},"axis":{"values":[0,0.5,1],"format":".1f","tickSize":5,"labelFlush":false}}}},
{"transform":[{"filter":"datum.k=='g'"}],"mark":{"type":"line","strokeDash":[3,2],"strokeWidth":1,"color":"black"},"encoding":{"x":{"field":"x","type":"quantitative","axis":null},"y":{"field":"y","type":"quantitative","axis":null},"order":{"field":"o","type":"quantitative"}}},
{"transform":[{"filter":"datum.k=='i'"}],"mark":{"type":"point","shape":"triangle-down","filled":true,"size":16,"color":"black","opacity":1},"encoding":{"x":{"field":"ic","type":"quantitative","axis":null},"y":{"datum":0.03,"type":"quantitative","axis":null}}},
{"transform":[{"filter":"datum.k=='p' && isValid(datum.lo)"}],"mark":{"type":"rule","strokeWidth":1.5,"color":"black"},"encoding":{"x":{"field":"x","type":"quantitative","axis":null},"y":{"field":"lo","type":"quantitative","axis":null},"y2":{"field":"hi"}}},
{"transform":[{"filter":"datum.k=='p' && isValid(datum.lo)"}],"mark":{"type":"tick","orient":"horizontal","size":7,"thickness":1.5,"color":"black","opacity":1},"encoding":{"x":{"field":"x","type":"quantitative","axis":null},"y":{"field":"lo","type":"quantitative","axis":null}}},
{"transform":[{"filter":"datum.k=='p' && isValid(datum.lo)"}],"mark":{"type":"tick","orient":"horizontal","size":7,"thickness":1.5,"color":"black","opacity":1},"encoding":{"x":{"field":"x","type":"quantitative","axis":null},"y":{"field":"hi","type":"quantitative","axis":null}}},
{"transform":[{"filter":"datum.k=='p'"}],"mark":{"type":"circle","size":32,"color":"black","opacity":1},"encoding":{"x":{"field":"x","type":"quantitative","title":null,"axis":{"values":[-0.9,-0.8,-0.7,-0.6,-0.4,-0.3,-0.2,-0.1,0.1,0.2,0.3,0.4,0.6,0.7,0.8,0.9,1.1],"labels":false,"domain":false,"tickSize":3,"orient":"bottom"}},"y":{"field":"y","type":"quantitative","title":null,"axis":{"values":[0.1,0.2,0.3,0.4,0.6,0.7,0.8,0.9,1.1],"labels":false,"domain":false,"tickSize":3,"orient":"left"}}}},
{"transform":[{"filter":"datum.k=='b'"}],"mark":{"type":"text","text":"//","fontSize":11,"fontWeight":"bold","color":"black"},"encoding":{"x":{"datum":-0.93,"type":"quantitative","axis":null},"y":{"field":"y","type":"quantitative","axis":null}}},
{"transform":[{"filter":"datum.k=='i'"}],"mark":{"type":"text","align":"right","baseline":"middle","fontSize":14,"fontWeight":"bold","color":"black"},"encoding":{"x":{"datum":1.12,"type":"quantitative","axis":null},"y":{"datum":1.07,"type":"quantitative","axis":null},"text":{"field":"c","type":"nominal"}}}
]},
{"width":222,"height":146,"transform":[{"filter":"datum.c=='TCC-SUP'"}],"resolve":{"axis":{"x":"independent","y":"independent"}},
"layer":[
{"transform":[{"filter":"datum.k=='f'"}],"mark":{"type":"line","interpolate":"monotone","color":"black","strokeWidth":1.5},"encoding":{"x":{"field":"x","type":"quantitative","title":"log TKI258 [µM]","scale":{"domain":[-1,1.2],"nice":false,"zero":false},"axis":{"values":[-1,-0.5,0,0.5,1],"labelExpr":"datum.value < -0.95 ? '0' : (datum.value < 0 ? '-' : '') + format(abs(datum.value), '.1f')","labelFlush":false,"tickSize":5,"titlePadding":3}},"y":{"field":"y","type":"quantitative","title":"rel. viability","scale":{"domain":[0,1.2],"nice":false},"axis":{"values":[0,0.5,1],"format":".1f","tickSize":5,"labelFlush":false}}}},
{"transform":[{"filter":"datum.k=='g'"}],"mark":{"type":"line","strokeDash":[3,2],"strokeWidth":1,"color":"black"},"encoding":{"x":{"field":"x","type":"quantitative","axis":null},"y":{"field":"y","type":"quantitative","axis":null},"order":{"field":"o","type":"quantitative"}}},
{"transform":[{"filter":"datum.k=='i'"}],"mark":{"type":"point","shape":"triangle-down","filled":true,"size":16,"color":"black","opacity":1},"encoding":{"x":{"field":"ic","type":"quantitative","axis":null},"y":{"datum":0.03,"type":"quantitative","axis":null}}},
{"transform":[{"filter":"datum.k=='p' && isValid(datum.lo)"}],"mark":{"type":"rule","strokeWidth":1.5,"color":"black"},"encoding":{"x":{"field":"x","type":"quantitative","axis":null},"y":{"field":"lo","type":"quantitative","axis":null},"y2":{"field":"hi"}}},
{"transform":[{"filter":"datum.k=='p' && isValid(datum.lo)"}],"mark":{"type":"tick","orient":"horizontal","size":7,"thickness":1.5,"color":"black","opacity":1},"encoding":{"x":{"field":"x","type":"quantitative","axis":null},"y":{"field":"lo","type":"quantitative","axis":null}}},
{"transform":[{"filter":"datum.k=='p' && isValid(datum.lo)"}],"mark":{"type":"tick","orient":"horizontal","size":7,"thickness":1.5,"color":"black","opacity":1},"encoding":{"x":{"field":"x","type":"quantitative","axis":null},"y":{"field":"hi","type":"quantitative","axis":null}}},
{"transform":[{"filter":"datum.k=='p'"}],"mark":{"type":"circle","size":32,"color":"black","opacity":1},"encoding":{"x":{"field":"x","type":"quantitative","title":null,"axis":{"values":[-0.9,-0.8,-0.7,-0.6,-0.4,-0.3,-0.2,-0.1,0.1,0.2,0.3,0.4,0.6,0.7,0.8,0.9,1.1],"labels":false,"domain":false,"tickSize":3,"orient":"bottom"}},"y":{"field":"y","type":"quantitative","title":null,"axis":{"values":[0.1,0.2,0.3,0.4,0.6,0.7,0.8,0.9,1.1],"labels":false,"domain":false,"tickSize":3,"orient":"left"}}}},
{"transform":[{"filter":"datum.k=='b'"}],"mark":{"type":"text","text":"//","fontSize":11,"fontWeight":"bold","color":"black"},"encoding":{"x":{"datum":-0.93,"type":"quantitative","axis":null},"y":{"field":"y","type":"quantitative","axis":null}}},
{"transform":[{"filter":"datum.k=='i'"}],"mark":{"type":"text","align":"right","baseline":"middle","fontSize":14,"fontWeight":"bold","color":"black"},"encoding":{"x":{"datum":1.12,"type":"quantitative","axis":null},"y":{"datum":1.07,"type":"quantitative","axis":null},"text":{"field":"c","type":"nominal"}}}
]},
{"width":222,"height":146,"transform":[{"filter":"datum.c=='RT4'"}],"resolve":{"axis":{"x":"independent","y":"independent"}},
"layer":[
{"transform":[{"filter":"datum.k=='f'"}],"mark":{"type":"line","interpolate":"monotone","color":"black","strokeWidth":1.5},"encoding":{"x":{"field":"x","type":"quantitative","title":"log TKI258 [µM]","scale":{"domain":[-1,1.2],"nice":false,"zero":false},"axis":{"values":[-1,-0.5,0,0.5,1],"labelExpr":"datum.value < -0.95 ? '0' : (datum.value < 0 ? '-' : '') + format(abs(datum.value), '.1f')","labelFlush":false,"tickSize":5,"titlePadding":3}},"y":{"field":"y","type":"quantitative","title":"rel. viability","scale":{"domain":[0,1.2],"nice":false},"axis":{"values":[0,0.5,1],"format":".1f","tickSize":5,"labelFlush":false}}}},
{"transform":[{"filter":"datum.k=='g'"}],"mark":{"type":"line","strokeDash":[3,2],"strokeWidth":1,"color":"black"},"encoding":{"x":{"field":"x","type":"quantitative","axis":null},"y":{"field":"y","type":"quantitative","axis":null},"order":{"field":"o","type":"quantitative"}}},
{"transform":[{"filter":"datum.k=='i'"}],"mark":{"type":"point","shape":"triangle-down","filled":true,"size":16,"color":"black","opacity":1},"encoding":{"x":{"field":"ic","type":"quantitative","axis":null},"y":{"datum":0.03,"type":"quantitative","axis":null}}},
{"transform":[{"filter":"datum.k=='p' && isValid(datum.lo)"}],"mark":{"type":"rule","strokeWidth":1.5,"color":"black"},"encoding":{"x":{"field":"x","type":"quantitative","axis":null},"y":{"field":"lo","type":"quantitative","axis":null},"y2":{"field":"hi"}}},
{"transform":[{"filter":"datum.k=='p' && isValid(datum.lo)"}],"mark":{"type":"tick","orient":"horizontal","size":7,"thickness":1.5,"color":"black","opacity":1},"encoding":{"x":{"field":"x","type":"quantitative","axis":null},"y":{"field":"lo","type":"quantitative","axis":null}}},
{"transform":[{"filter":"datum.k=='p' && isValid(datum.lo)"}],"mark":{"type":"tick","orient":"horizontal","size":7,"thickness":1.5,"color":"black","opacity":1},"encoding":{"x":{"field":"x","type":"quantitative","axis":null},"y":{"field":"hi","type":"quantitative","axis":null}}},
{"transform":[{"filter":"datum.k=='p'"}],"mark":{"type":"circle","size":32,"color":"black","opacity":1},"encoding":{"x":{"field":"x","type":"quantitative","title":null,"axis":{"values":[-0.9,-0.8,-0.7,-0.6,-0.4,-0.3,-0.2,-0.1,0.1,0.2,0.3,0.4,0.6,0.7,0.8,0.9,1.1],"labels":false,"domain":false,"tickSize":3,"orient":"bottom"}},"y":{"field":"y","type":"quantitative","title":null,"axis":{"values":[0.1,0.2,0.3,0.4,0.6,0.7,0.8,0.9,1.1],"labels":false,"domain":false,"tickSize":3,"orient":"left"}}}},
{"transform":[{"filter":"datum.k=='b'"}],"mark":{"type":"text","text":"//","fontSize":11,"fontWeight":"bold","color":"black"},"encoding":{"x":{"datum":-0.93,"type":"quantitative","axis":null},"y":{"field":"y","type":"quantitative","axis":null}}},
{"transform":[{"filter":"datum.k=='i'"}],"mark":{"type":"text","align":"right","baseline":"middle","fontSize":14,"fontWeight":"bold","color":"black"},"encoding":{"x":{"datum":1.12,"type":"quantitative","axis":null},"y":{"datum":1.07,"type":"quantitative","axis":null},"text":{"field":"c","type":"nominal"}}}
]}
]},
{"hconcat":[
{"width":530,"height":261,"view":{"stroke":null},
"data":{"values":[{"line":"UMUC3","ic50":1.66},{"line":"HU456","ic50":3.65},{"line":"HT1376","ic50":2.23},{"line":"T24","ic50":2.23},{"line":"TCC-SUP","ic50":0.97},{"line":"5637","ic50":0.85},{"line":"MGHU4","ic50":2.0},{"line":"RT112","ic50":0.83},{"line":"BFTC","ic50":1.0},{"line":"RT4","ic50":0.42}]},
"resolve":{"axis":{"y":"independent"}},
"layer":[
{"mark":{"type":"bar","color":"#808080","stroke":"black","strokeWidth":2},
"encoding":{
"x":{"field":"line","type":"nominal","sort":null,"title":null,"scale":{"paddingInner":0.32,"paddingOuter":0.08},"axis":{"labelAngle":-45,"labelFontSize":20,"tickSize":6,"tickWidth":2,"domainWidth":2,"labelPadding":3}},
"y":{"field":"ic50","type":"quantitative","title":"IC₅₀ TKI258 [µM]","scale":{"domain":[0,4],"nice":false},"axis":{"values":[0,1,2,3,4],"format":"d","tickSize":6,"tickWidth":2,"domainWidth":2,"labelFontSize":18,"titleFontSize":22,"labelPadding":3,"titlePadding":7,"labelFlush":false}}}},
{"transform":[{"filter":"datum.line=='UMUC3'"}],"mark":{"type":"text","text":"B","align":"left","baseline":"top","fontSize":28,"fontWeight":"bold","color":"black","dx":-83},
"encoding":{"x":{"field":"line","type":"nominal","sort":null},"y":{"datum":4.07,"type":"quantitative","title":null,"axis":{"values":[0.5,1.5,2.5,3.5],"labels":false,"domain":false,"tickSize":4,"tickWidth":2,"orient":"left"}}}}
]}
]}
]
}
